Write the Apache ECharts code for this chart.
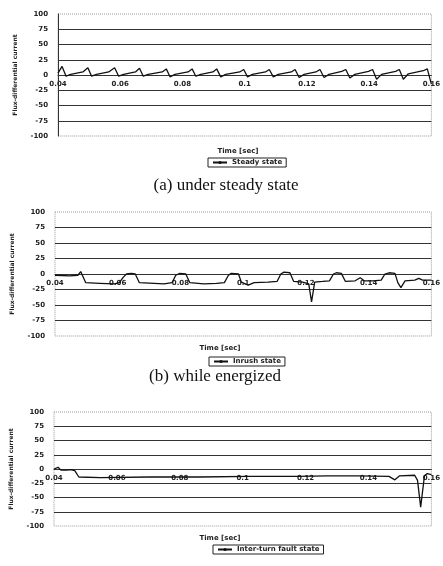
<!DOCTYPE html>
<html>
<head>
<meta charset="utf-8">
<script src="https://cdn.jsdelivr.net/npm/echarts@6/dist/echarts.min.js"></script>
<style>
  html, body { margin: 0; padding: 0; background: #fff; }
  #chart { width: 443px; height: 566px; }
</style>
</head>
<body>
<div id="chart"></div>
<script>
// (a) steady state
const steadyTime = [0.0400, 0.0413, 0.0426, 0.0441, 0.0480, 0.0496, 0.0508, 0.0524, 0.0563, 0.0582,
  0.0595, 0.0611, 0.0649, 0.0662, 0.0674, 0.0690, 0.0735, 0.0748, 0.0760, 0.0776,
  0.0818, 0.0831, 0.0843, 0.0859, 0.0898, 0.0910, 0.0923, 0.0939, 0.0984, 0.0997,
  0.1009, 0.1025, 0.1067, 0.1079, 0.1092, 0.1108, 0.1150, 0.1162, 0.1175, 0.1191,
  0.1229, 0.1242, 0.1255, 0.1271, 0.1312, 0.1325, 0.1338, 0.1354, 0.1398, 0.1411,
  0.1424, 0.1440, 0.1485, 0.1497, 0.1510, 0.1526, 0.1574, 0.1587, 0.1600]
const steadyValue = [3, 14, -2, 1, 5, 12, -2, 1, 5, 12,
  -2, 1, 5, 11, -2, 1, 5, 10, -3, 1,
  5, 10, -2, 1, 5, 10, -3, 1, 5, 9,
  -3, 1, 5, 9, -3, 1, 5, 9, -4, 1,
  5, 9, -4, 1, 6, 9, -5, 1, 6, 9,
  -7, 1, 6, 9, -7, 2, 7, 10, -15]

// (b) inrush state
const inrushTime = [0.0400, 0.0447, 0.0473, 0.0482, 0.0488, 0.0498, 0.0542, 0.0590, 0.0605, 0.0618,
  0.0628, 0.0643, 0.0656, 0.0669, 0.0716, 0.0748, 0.0773, 0.0785, 0.0798, 0.0817,
  0.0830, 0.0874, 0.0915, 0.0940, 0.0953, 0.0962, 0.0985, 0.0994, 0.1016, 0.1035,
  0.1079, 0.1108, 0.1120, 0.1130, 0.1149, 0.1161, 0.1190, 0.1209, 0.1218, 0.1228,
  0.1253, 0.1275, 0.1288, 0.1297, 0.1313, 0.1326, 0.1357, 0.1373, 0.1386, 0.1414,
  0.1440, 0.1452, 0.1465, 0.1484, 0.1493, 0.1503, 0.1516, 0.1547, 0.1560, 0.1572, 0.1600]
const inrushValue = [-2, -3, -2, 4, 3, -14, -15, -16, -14, -5,
  0, 1, 0, -14, -15, -16, -14, -2, 1, 0,
  -14, -16, -15, -14, -2, 1, 0, -13, -18, -14,
  -13, -12, 0, 3, 2, -12, -13, -16, -45, -13,
  -12, -11, 0, 2, 1, -12, -11, -6, -11, -11,
  -10, 0, 2, 1, -14, -22, -11, -10, -7, -10, -10]

// (c) inter-turn fault state
const faultTime = [0.0400, 0.0413, 0.0422, 0.0441, 0.0453, 0.0466, 0.0479, 0.0548, 0.0705, 0.0862,
  0.1019, 0.1176, 0.1270, 0.1364, 0.1465, 0.1484, 0.1499, 0.1547, 0.1556, 0.1566,
  0.1578, 0.1587, 0.1600]
const faultValue = [0, 3, -2, -2, -1, -3, -14, -15, -14, -14,
  -13, -13, -12, -12, -13, -19, -12, -11, -20, -67,
  -12, -8, -10]

const seriesNames = ['Steady state', 'Inrush state', 'Inter-turn fault state']
const captions = ['(a) under steady state', '(b) while energized']
const yTicks = [-100, -75, -50, -25, 0, 25, 50, 75, 100]

const pair = (xs, ys) => xs.map((x, i) => [x, ys[i]])
const smallFont = { fontSize: 7, fontWeight: 'bold', color: '#222', fontFamily: 'DejaVu Sans' }

const grids = [
  { left: 58, right: 9, top: 14, height: 122 },
  { left: 55, right: 8, top: 212, height: 124 },
  { left: 53, right: 8, top: 412, height: 114 }
]

const chart = echarts.init(document.getElementById('chart'))

const option = {
  animation: false,
  backgroundColor: '#fff',
  grid: grids.map(g => ({
    ...g,
    show: true,
    borderColor: '#999',
    borderWidth: 1,
    borderType: 'dotted'
  })),
  // x axis sits on the zero line (moved up by half the grid height)
  xAxis: grids.map((g, i) => ({
    type: 'value',
    gridIndex: i,
    min: 0.04,
    max: 0.16,
    interval: 0.02,
    position: 'bottom',
    offset: -g.height / 2,
    axisLine: { onZero: false, lineStyle: { color: '#333', width: 1 } },
    axisTick: { show: false },
    splitLine: { show: false },
    axisLabel: { ...smallFont, margin: 6, formatter: v => String(+v.toFixed(2)) }
  })),
  yAxis: grids.map((g, i) => ({
    type: 'value',
    gridIndex: i,
    min: yTicks[0],
    max: yTicks[yTicks.length - 1],
    interval: 25,
    name: 'Flux-differential current',
    nameLocation: 'middle',
    nameGap: 40,
    nameTextStyle: { ...smallFont, fontSize: 6 },
    axisLine: { show: i === 0, lineStyle: { color: '#333' } },
    axisTick: { show: false },
    axisLabel: { ...smallFont, margin: 10 },
    splitLine: { show: true, showMinLine: false, showMaxLine: false, lineStyle: { color: '#333', width: 1 } }
  })),
  title: [
    { text: 'Time [sec]', left: 238, top: 148 },
    { text: 'Time [sec]', left: 220, top: 345 },
    { text: 'Time [sec]', left: 220, top: 535 }
  ].map(t => ({ ...t, textAlign: 'center', padding: 0, textStyle: smallFont }))
    .concat([
      { text: captions[0], left: 226, top: 177 },
      { text: captions[1], left: 215, top: 368 }
    ].map(t => ({ ...t, textAlign: 'center', padding: 0, textStyle: { fontSize: 17, fontWeight: 'normal', color: '#111', fontFamily: 'Liberation Serif' } }))),
  legend: [
    { data: [seriesNames[0]], left: 208, top: 158 },
    { data: [seriesNames[1]], left: 209, top: 357 },
    { data: [seriesNames[2]], left: 213, top: 545 }
  ].map(l => ({
    ...l,
    orient: 'horizontal',
    borderColor: '#222',
    borderWidth: 1,
    padding: [1, 4],
    itemWidth: 14,
    itemHeight: 4,
    itemGap: 4,
    textStyle: smallFont
  })),
  series: [
    pair(steadyTime, steadyValue),
    pair(inrushTime, inrushValue),
    pair(faultTime, faultValue)
  ].map((d, i) => ({
    name: seriesNames[i],
    type: 'line',
    xAxisIndex: i,
    yAxisIndex: i,
    data: d,
    symbol: 'circle',
    symbolSize: 2,
    showSymbol: false,
    lineStyle: { color: '#111', width: 1.3 },
    itemStyle: { color: '#111' }
  }))
}

chart.setOption(option)
</script>
</body>
</html>
